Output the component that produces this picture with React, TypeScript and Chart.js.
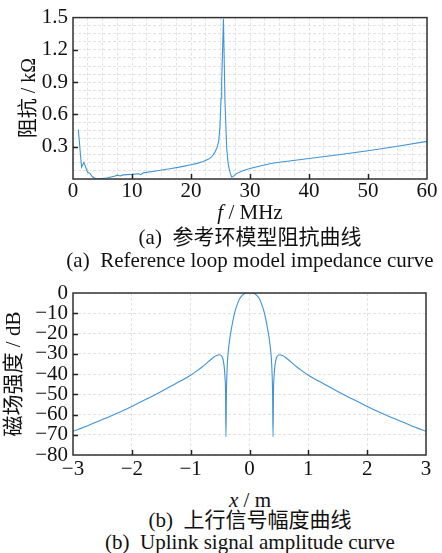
import React, { useEffect, useRef } from 'react';
import { Chart, registerables } from 'chart.js';

Chart.register(...registerables);

// ---------- Data: (a) reference loop impedance ----------
const freqMHz = [
  0.9, 1.45, 1.85, 2.15, 2.45, 2.9, 3.3, 3.8, 4.5, 5.7, 7.0, 7.5, 8.0, 8.5, 10,
  11.1, 11.5, 11.9, 14, 16.4, 18, 20, 21, 22.1, 23, 23.5, 24, 24.4, 24.7, 24.9,
  25.1, 25.2, 25.35, 25.5, 25.76, 26.05, 26.3, 26.6, 26.9, 27.1, 27.7, 28.9, 30,
  31.7, 34, 37, 40, 45, 50, 55, 60,
];
const impedanceKOhm = [
  0.46, 0.11, 0.155, 0.11, 0.065, 0.05, 0.02, 0.004, 0.003, 0.01, 0.025, 0.036, 0.028, 0.038, 0.043,
  0.049, 0.04, 0.057, 0.075, 0.095, 0.11, 0.132, 0.145, 0.162, 0.185, 0.205, 0.245, 0.29, 0.355, 0.48,
  0.75, 0.9, 1.2, 1.49, 0.72, 0.29, 0.14, 0.064, 0.018, 0.02, 0.05, 0.08, 0.098,
  0.12, 0.148, 0.17, 0.19, 0.226, 0.263, 0.305, 0.35,
];
const impXMajor = [0, 10, 20, 30, 40, 50, 60];
const impYMajor = [0.3, 0.6, 0.9, 1.2, 1.5];

// ---------- Data: (b) uplink signal amplitude ----------
const positionM = [
  -3, -2.75, -2.5, -2.25, -2, -1.75, -1.5, -1.25, -1.0, -0.9, -0.8, -0.7, -0.62, -0.56, -0.52,
  -0.49, -0.465, -0.445, -0.43, -0.418, -0.408, -0.4, -0.392, -0.384, -0.375, -0.36, -0.34,
  -0.3, -0.25, -0.2, -0.16, -0.12, -0.08, -0.04, 0,
  0.04, 0.08, 0.12, 0.16, 0.2, 0.25, 0.3, 0.34, 0.36, 0.375, 0.384, 0.392,
  0.4, 0.408, 0.418, 0.43, 0.445, 0.465, 0.49, 0.52, 0.56, 0.62, 0.7, 0.8, 0.9, 1.0,
  1.25, 1.5, 1.75, 2, 2.25, 2.5, 2.75, 3,
];
const fieldDb = [
  -68.3, -65.5, -62.5, -59.4, -56, -52.4, -48.6, -44.7, -40.6, -38.6, -36.4, -33.9, -32, -30.9, -30.5,
  -30.7, -31.6, -33.5, -36.5, -41, -48, -71, -49, -40, -34, -28.5, -23.5,
  -16.5, -9.5, -5, -2.5, -1, -0.2, 0, 0,
  0, -0.2, -1, -2.5, -5, -9.5, -16.5, -23.5, -28.5, -34, -40, -49,
  -71, -48, -41, -36.5, -33.5, -31.6, -30.7, -30.5, -30.9, -32, -33.9, -36.4, -38.6, -40.6,
  -44.7, -48.6, -52.4, -56, -59.4, -62.5, -65.5, -68.3,
];
const fieldXMajor = [-3, -2, -1, 0, 1, 2, 3];
const fieldYMajor = [0, -10, -20, -30, -40, -50, -60, -70, -80];

const SERIF = "'Liberation Serif', 'Noto Sans CJK SC', serif";
const LINE_COLOR = '#3f94d6';
const GRID_COLOR = '#e2e2e2';

const framePlugin = {
  id: 'frame',
  afterDatasetsDraw(chart: any, _args: any, opts: any) {
    const { ctx, chartArea: a, scales } = chart;
    ctx.save();
    ctx.strokeStyle = '#333';
    ctx.lineWidth = 1.5;
    ctx.strokeRect(a.left, a.top, a.right - a.left, a.bottom - a.top);
    ctx.strokeStyle = '#222';
    ctx.lineWidth = 1.5;
    ctx.beginPath();
    for (const v of opts.xTicks || []) {
      const px = Math.round(scales.x.getPixelForValue(v)) + 0.5;
      if (px <= a.left + 1 || px >= a.right - 1) continue;
      ctx.moveTo(px, a.bottom);
      ctx.lineTo(px, a.bottom - 5);
    }
    for (const v of opts.yTicks || []) {
      const py = Math.round(scales.y.getPixelForValue(v)) + 0.5;
      if (py <= a.top + 1 || py >= a.bottom - 1) continue;
      ctx.moveTo(a.left, py);
      ctx.lineTo(a.left + 5, py);
    }
    ctx.stroke();
    ctx.restore();
  },
};

const near = (v: number, step: number) => Math.abs(v / step - Math.round(v / step)) < 1e-6;
const signed = (v: number) => (v < 0 ? '\u2212' + Math.abs(v) : String(v));

function useChart(ref: React.RefObject<HTMLCanvasElement>, build: () => any) {
  useEffect(() => {
    if (!ref.current) return;
    const chart = new Chart(ref.current, build());
    return () => chart.destroy();
  }, []);
}

const tickFont = { family: SERIF, size: 21 };

function ImpedanceChart() {
  const ref = useRef<HTMLCanvasElement>(null);
  useChart(ref, () => ({
    type: 'line',
    data: {
      datasets: [
        {
          data: freqMHz.map((f, i) => ({ x: f, y: impedanceKOhm[i] })),
          borderColor: LINE_COLOR,
          borderWidth: 1.1,
          pointRadius: 0,
          tension: 0,
          fill: false,
        },
      ],
    },
    options: {
      animation: false,
      responsive: false,
      events: [],
      layout: { padding: { left: 0, top: 15, right: 15, bottom: 0 } },
      plugins: {
        legend: { display: false },
        tooltip: { enabled: false },
        frame: { xTicks: impXMajor, yTicks: impYMajor },
      },
      scales: {
        x: {
          type: 'linear',
          min: 0,
          max: 60,
          afterFit: (s: any) => { s.height = 26; },
          afterBuildTicks: (s: any) => {
            const t = [];
            for (let i = 0; i <= 24; i++) t.push({ value: i * 2.5 });
            s.ticks = t;
          },
          ticks: {
            autoSkip: false,
            maxRotation: 0,
            padding: 0,
            color: '#111',
            font: tickFont,
            callback: (v: number) => (near(v, 10) ? String(Math.round(v)) : ''),
          },
          grid: { color: GRID_COLOR, lineWidth: 1, drawTicks: false },
          border: { display: false, dash: [3, 2] },
        },
        y: {
          type: 'linear',
          min: 0,
          max: 1.5,
          afterFit: (s: any) => { s.width = 73; },
          afterBuildTicks: (s: any) => {
            const t = [];
            for (let i = 0; i <= 20; i++) t.push({ value: i * 0.075 });
            s.ticks = t;
          },
          ticks: {
            autoSkip: false,
            padding: 5,
            color: '#111',
            font: tickFont,
            callback: (v: number) => (v > 0.01 && near(v, 0.3) ? v.toFixed(1) : ''),
          },
          grid: { color: GRID_COLOR, lineWidth: 1, drawTicks: false },
          border: { display: false, dash: [3, 2] },
        },
      },
    },
    plugins: [framePlugin],
  }));
  return (
    <canvas
      ref={ref}
      width={442}
      height={205}
      style={{ position: 'absolute', left: 0, top: 0, width: 442, height: 205 }}
    />
  );
}

function FieldChart() {
  const ref = useRef<HTMLCanvasElement>(null);
  useChart(ref, () => ({
    type: 'line',
    data: {
      datasets: [
        {
          data: positionM.map((x, i) => ({ x, y: fieldDb[i] })),
          borderColor: LINE_COLOR,
          borderWidth: 1.1,
          pointRadius: 0,
          cubicInterpolationMode: 'monotone',
          fill: false,
        },
      ],
    },
    options: {
      animation: false,
      responsive: false,
      events: [],
      layout: { padding: { left: 0, top: 18, right: 16, bottom: 0 } },
      plugins: {
        legend: { display: false },
        tooltip: { enabled: false },
        frame: { xTicks: fieldXMajor, yTicks: fieldYMajor },
      },
      scales: {
        x: {
          type: 'linear',
          min: -3,
          max: 3,
          afterFit: (s: any) => { s.height = 30; },
          afterBuildTicks: (s: any) => { s.ticks = fieldXMajor.map((v) => ({ value: v })); },
          ticks: {
            autoSkip: false,
            maxRotation: 0,
            padding: 2,
            color: '#111',
            font: tickFont,
            callback: signed,
          },
          grid: { color: GRID_COLOR, lineWidth: 1, drawTicks: false },
          border: { display: false, dash: [3, 2] },
        },
        y: {
          type: 'linear',
          min: -80,
          max: 0,
          afterFit: (s: any) => { s.width = 73; },
          afterBuildTicks: (s: any) => { s.ticks = fieldYMajor.map((v) => ({ value: v })); },
          ticks: {
            autoSkip: false,
            padding: 5,
            color: '#111',
            font: tickFont,
            callback: signed,
          },
          grid: { color: GRID_COLOR, lineWidth: 1, drawTicks: false },
          border: { display: false, dash: [3, 2] },
        },
      },
    },
    plugins: [framePlugin],
  }));
  return (
    <canvas
      ref={ref}
      width={442}
      height={210}
      style={{ position: 'absolute', left: 0, top: 275, width: 442, height: 210 }}
    />
  );
}

function Text(props: { x: number; y: number; size: number; rotate?: boolean; children: any }) {
  const { x, y, size, rotate, children } = props;
  return (
    <div
      style={{
        position: 'absolute',
        left: x,
        top: y,
        transform: `translate(-50%, -50%)${rotate ? ' rotate(-90deg)' : ''}`,
        fontFamily: SERIF,
        fontSize: size,
        lineHeight: 1,
        whiteSpace: 'pre',
        color: '#111',
      }}
    >
      {children}
    </div>
  );
}

export default function App() {
  return (
    <div
      style={{
        position: 'fixed',
        left: 0,
        top: 0,
        width: 442,
        height: 553,
        background: '#fff',
        overflow: 'hidden',
      }}
    >
      <ImpedanceChart />
      <FieldChart />
      <Text x={28} y={98} size={20} rotate>
        阻抗 / kΩ
      </Text>
      <Text x={250} y={212} size={21}>
        <i>f</i> / MHz
      </Text>
      <Text x={250} y={237} size={21}>
        (a)  参考环模型阻抗曲线
      </Text>
      <Text x={250} y={260} size={21}>
        (a)  Reference loop model impedance curve
      </Text>
      <Text x={13} y={374} size={21} rotate>
        磁场强度 / dB
      </Text>
      <Text x={250} y={500} size={21}>
        <i>x</i> / m
      </Text>
      <Text x={250} y={520} size={21}>
        (b)  上行信号幅度曲线
      </Text>
      <Text x={250} y={542} size={21}>
        (b)  Uplink signal amplitude curve
      </Text>
    </div>
  );
}
